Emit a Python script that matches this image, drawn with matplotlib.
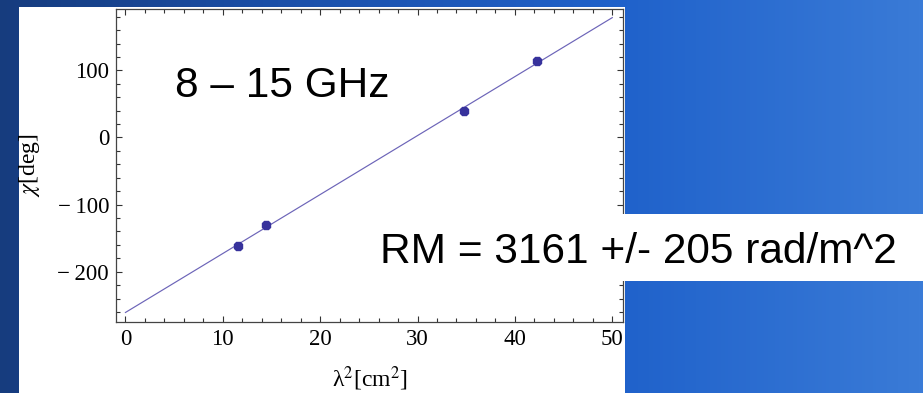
import numpy as np
import matplotlib
matplotlib.use("Agg")
import matplotlib.pyplot as plt
from matplotlib.colors import LinearSegmentedColormap
from matplotlib.patches import Rectangle
from matplotlib.ticker import MultipleLocator, FuncFormatter

# polarization angle vs wavelength squared
lam2 = [11.55, 14.4, 34.8, 42.3]      # cm^2
chi = [-161, -131, 40, 114.5]         # deg
band_label = "8 – 15 GHz"
rm_label = "RM = 3161 +/- 205 rad/m^2"

plt.rcParams['font.family'] = ['Liberation Serif', 'DejaVu Serif']
plt.rcParams['mathtext.fontset'] = 'stix'

fig = plt.figure(figsize=(9.23, 3.93), dpi=100)

# slide background
bg = fig.add_axes([0, 0, 1, 1], zorder=-10)
cmap = LinearSegmentedColormap.from_list(
    "slide", [(0, "#163c7e"), (0.3, "#1b4fa8"), (0.68, "#2062cb"), (1, "#3a7bd7")])
bg.imshow(np.linspace(0, 1, 256)[None, :], cmap=cmap, aspect='auto', extent=[0, 1, 0, 1])
bg.set_axis_off()

fig.patches.append(Rectangle((19 / 923, 0), 606 / 923, 386 / 393, transform=fig.transFigure,
                             facecolor='white', edgecolor='none', zorder=-5))

ax = fig.add_axes([116 / 923, 1 - 322 / 393, 507 / 923, 313 / 393])

slope, icpt = np.polyfit(lam2, chi, 1)
xf = np.array([0, 50])
ax.plot(xf, slope * xf + icpt, color='#6c64b8', lw=0.85)
ax.plot(lam2, chi, linestyle='none', marker='8', ms=6.5, color='#37329c')

ax.set_xlim(-0.97, 51.1)
ax.set_ylim(-275, 191.5)
ax.xaxis.set_major_locator(MultipleLocator(10))
ax.xaxis.set_minor_locator(MultipleLocator(2))
ax.yaxis.set_major_locator(MultipleLocator(100))
ax.yaxis.set_minor_locator(MultipleLocator(20))


def signed(v, pos):
    return '\u2212\u2009%d' % abs(v) if v < 0 else '%d' % v


ax.yaxis.set_major_formatter(FuncFormatter(signed))
ax.tick_params(which='both', direction='in', top=True, right=True, width=0.8, color='#333333')
ax.tick_params(which='major', length=4.4, labelsize=16.5, pad=5)
ax.tick_params(which='minor', length=2.6)
for s in ax.spines.values():
    s.set_color('#444444')
    s.set_linewidth(0.9)

ax.set_ylabel(r'$\chi$[deg]', fontsize=17)
ax.yaxis.set_label_coords(-0.146, 0.5)
ax.set_xlabel(r'λ$^2$[cm$^2$]', fontsize=17)
ax.xaxis.set_label_coords(0.5, -0.135)

fig.text(175 / 923, 1 - 96.7 / 393, band_label, family=['Liberation Sans', 'DejaVu Sans'],
         fontsize=30.5, va='baseline', ha='left', color='black')

# white strip behind the RM result
fig.patches.append(Rectangle((370 / 923, 1 - 281 / 393), 1, 67 / 393, transform=fig.transFigure,
                             facecolor='white', edgecolor='none', zorder=5))
fig.text(380 / 923, 1 - 263.3 / 393, rm_label, family=['Liberation Sans', 'DejaVu Sans'],
         fontsize=30.5, va='baseline', ha='left', color='black', zorder=6)

fig.savefig('out.png', dpi=100)
